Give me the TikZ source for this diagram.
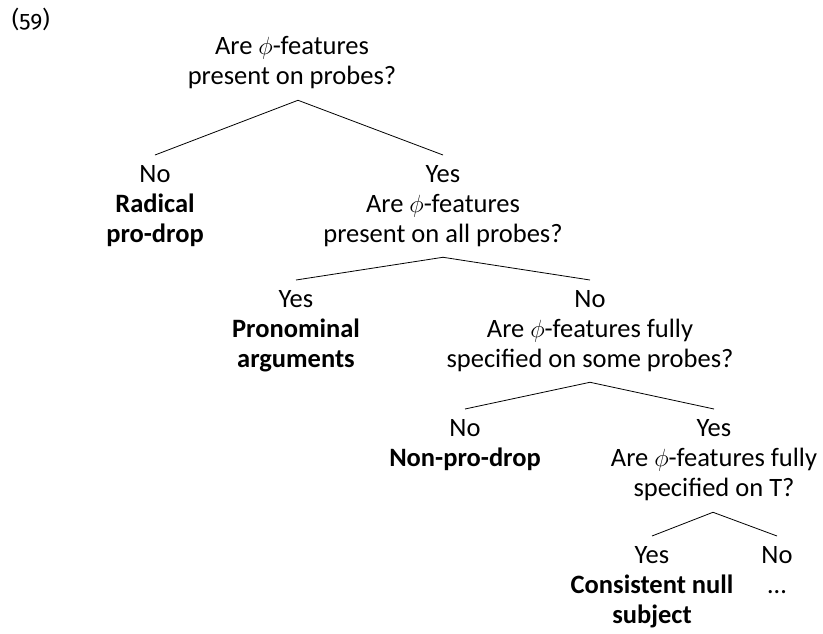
\documentclass[tikz,border=0pt]{standalone}
\usepackage{fontspec}
\setmainfont{Carlito}
\newfontfamily\exnumfont{Fira Sans}[Numbers=OldStyle]
\usetikzlibrary{calc}
\begin{document}
\begin{tikzpicture}[x=1pt,y=1pt,
  every node/.style={inner sep=0pt,outer sep=0pt,align=center,anchor=base,
    font=\fontsize{26.5}{30}\selectfont},
  branch/.style={line width=0.8pt,black}]
\useasboundingbox (0,0) rectangle (823,-633);
\node[anchor=base west,font=\fontsize{23}{28}\exnumfont] (ex) at (12,-27) {(59)};
% questions and answers, placed by the baseline of their last line
\node (q1) at (292,-84) {Are \(\phi\)-features\\present on probes?};
\node (a1) at (155,-242) {No\\\textbf{Radical}\\\textbf{pro-drop}};
\node (q2) at (443,-242) {Yes\\Are \(\phi\)-features\\present on all probes?};
\node (a2) at (296,-367) {Yes\\\textbf{Pronominal}\\\textbf{arguments}};
\node (q3) at (590,-367) {No\\Are \(\phi\)-features fully\\specified on some probes?};
\node (a3) at (465,-466) {No\\\textbf{Non-pro-drop}};
\node (q4) at (714,-496) {Yes\\Are \(\phi\)-features fully\\specified on T?};
\node (a4) at (652,-623) {Yes\\\textbf{Consistent null}\\\textbf{subject}};
\node (a5) at (777,-593) {No\\…};
% branches
\draw[branch] ($(a1.north)+(0,10)$) -- ($(q1.south)+(6,-12)$) -- ($(q2.north)+(0,10)$);
\draw[branch] ($(a2.north)+(0,10)$) -- ($(q2.south)+(0,-11)$) -- ($(q3.north)+(0,10)$);
\draw[branch] ($(a3.north)+(0,10)$) -- ($(q3.south)+(0,-11)$) -- ($(q4.north)+(0,10)$);
\draw[branch] ($(a4.north)+(0,10)$) -- ($(q4.south)+(-1,-12)$) -- ($(a5.north)+(0,10)$);
\end{tikzpicture}
\end{document}
